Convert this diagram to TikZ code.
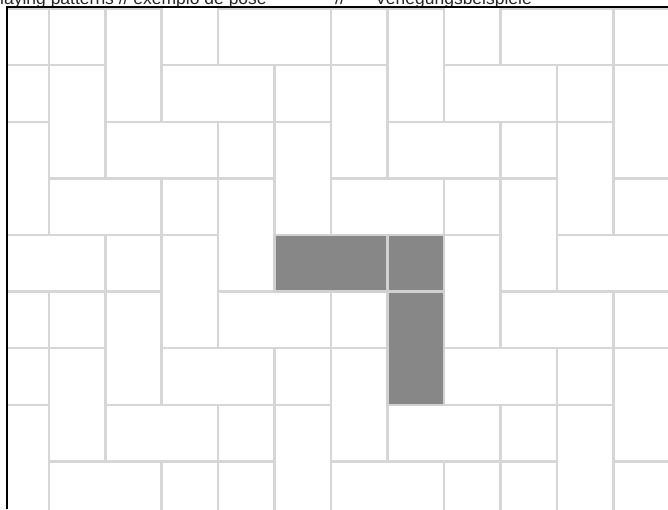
\documentclass[tikz,border=0pt]{standalone}
\usepackage{fontspec}
\setmainfont{Liberation Sans}

\begin{document}
\begin{tikzpicture}[x=1pt,y=-1pt]
\tikzset{
  tile/.style={fill=white,draw=black!16,line width=2.5pt},
  darktile/.style={fill=black!47,draw=black!18,line width=2.5pt},
  caption/.style={anchor=base west,inner sep=0pt,text=black!85,font=\fontsize{17.5}{20}\selectfont}
}
\useasboundingbox (0,0) rectangle (668,509);
% heading, cut off by the top edge
\node[caption] (title) at (0,4) {laying patterns // exemplo de pose};
\node[caption] (sep) at (335,4) {//};
\node[caption] (titlede) at (375,4) {Verlegungsbeispiele};
\begin{scope}
\clip (7,7) rectangle (668,509);
\begin{scope}[xshift=-7.65pt,yshift=-8.6pt,x=56.45pt,y=-56.6pt]
% squares, standing and lying bricks
\foreach \r in {-1,...,8}
  \foreach \c in {-2,...,12} {
    \pgfmathtruncatemacro{\k}{mod(\c+\r+10,5)}
    \ifnum\k=1 \draw[tile] (\c,\r) rectangle ++(1,1); \fi
    \ifnum\k=2 \draw[tile] (\c,\r) rectangle ++(1,2); \fi
    \ifnum\k=4 \draw[tile] (\c,\r) rectangle ++(2,1); \fi
  }
% highlighted unit
\draw[darktile] (5,4) rectangle (7,5);
\draw[darktile] (7,4) rectangle (8,5);
\draw[darktile] (7,5) rectangle (8,7);
\end{scope}
\end{scope}
\draw[line width=2.3pt] (7.2,509) -- (7.2,7.2) -- (668,7.2);
\end{tikzpicture}
\end{document}
